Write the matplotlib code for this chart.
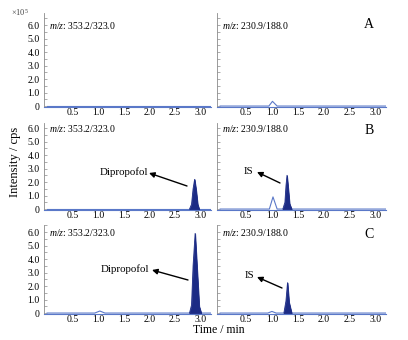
import matplotlib
matplotlib.use("Agg")
import matplotlib.pyplot as plt
from matplotlib.ticker import MultipleLocator

plt.rcParams['font.family'] = ['Liberation Serif', 'DejaVu Serif']
plt.rcParams['mathtext.fontset'] = 'custom'
plt.rcParams['mathtext.it'] = 'Liberation Serif:italic'
plt.rcParams['mathtext.rm'] = 'Liberation Serif'

# ---------------- data (time in min, intensity in x10^5 cps) ----------------
x_ticks = [0.5, 1.0, 1.5, 2.0, 2.5, 3.0]
x_tick_labels = ["0.5", "1.0", "1.5", "2.0", "2.5", "3.0"]
y_ticks = [0, 1, 2, 3, 4, 5, 6]
y_tick_labels = ["0", "1.0", "2.0", "3.0", "4.0", "5.0", "6.0"]

row_labels = ["A", "B", "C"]
left_mz = "353.2/323.0"
right_mz = "230.9/188.0"

# Row A (blank)
a_left_t = [0.0, 3.2]
a_left_y = [0.0, 0.0]
a_right_t = [0.0, 0.94, 1.01, 1.10, 3.2]
a_right_y = [0.0, 0.0, 0.35, 0.0, 0.0]

# Row B
b_left_t = [0.0, 3.2]
b_left_y = [0.0, 0.0]
b_left_peak_t = [2.78, 2.82, 2.85, 2.88, 2.91, 2.94, 2.97]
b_left_peak_y = [0.0, 0.35, 1.5, 2.2, 1.4, 0.35, 0.0]
b_right_t = [0.0, 0.95, 1.02, 1.10, 3.2]
b_right_y = [0.0, 0.0, 0.9, 0.0, 0.0]
b_right_peak_t = [1.21, 1.25, 1.27, 1.29, 1.31, 1.34, 1.38]
b_right_peak_y = [0.0, 0.5, 1.7, 2.5, 1.7, 0.4, 0.0]

# Row C
c_left_t = [0.0, 0.93, 1.03, 1.13, 3.2]
c_left_y = [0.0, 0.0, 0.15, 0.0, 0.0]
c_left_peak_t = [2.78, 2.82, 2.85, 2.89, 2.93, 2.97, 3.01]
c_left_peak_y = [0.0, 0.6, 3.5, 5.9, 3.2, 0.5, 0.0]
c_right_t = [0.0, 0.92, 1.00, 1.08, 3.2]
c_right_y = [0.0, 0.0, 0.12, 0.0, 0.0]
c_right_peak_t = [1.23, 1.27, 1.30, 1.33, 1.38]
c_right_peak_y = [0.0, 0.9, 2.25, 0.8, 0.0]

panels = [
    [(a_left_t, a_left_y, None, None), (a_right_t, a_right_y, None, None)],
    [(b_left_t, b_left_y, b_left_peak_t, b_left_peak_y),
     (b_right_t, b_right_y, b_right_peak_t, b_right_peak_y)],
    [(c_left_t, c_left_y, c_left_peak_t, c_left_peak_y),
     (c_right_t, c_right_y, c_right_peak_t, c_right_peak_y)],
]

# ---------------- layout ----------------
W, H = 408, 340
fig = plt.figure(figsize=(W / 100, H / 100), dpi=100)

cols_px = [(44, 211), (217, 386)]
rows_px = [(13, 107), (123, 210), (225, 314)]
px_per_unit = 13.5
y_bottom = -0.07
xlim = (-0.06, 3.2)

line_col = "#5a78c8"
fill_col = "#1c2b85"
spine_gray = "#8a8a8a"

axes = []
for r, (top, bot) in enumerate(rows_px):
    row_axes = []
    for c, (lft, rgt) in enumerate(cols_px):
        ax = fig.add_axes([lft / W, 1 - bot / H, (rgt - lft) / W, (bot - top) / H])
        t, y, pt, py = panels[r][c]
        ax.plot(t, y, color=line_col, lw=0.8, zorder=3)
        if pt is not None:
            ax.fill_between(pt, py, 0, color=fill_col, lw=0.6, zorder=4)
            ax.plot(pt, py, color=fill_col, lw=0.6, zorder=4)
        ax.set_xlim(*xlim)
        ax.set_ylim(y_bottom, y_bottom + (bot - top) / px_per_unit)
        ax.set_xticks(x_ticks)
        ax.set_xticklabels(x_tick_labels)
        ax.set_yticks(y_ticks)
        ax.yaxis.set_minor_locator(MultipleLocator(0.5))
        if c == 0:
            ax.set_yticklabels(y_tick_labels)
        else:
            ax.set_yticklabels([])
        ax.tick_params(axis='x', length=0, pad=1.0, labelsize=7)
        ax.tick_params(axis='y', which='both', direction='in', length=2,
                       color=spine_gray, width=0.5, pad=3, labelsize=7)
        for s in ['top', 'right']:
            ax.spines[s].set_visible(False)
        ax.spines['left'].set_color(spine_gray)
        ax.spines['left'].set_linewidth(0.6)
        ax.spines['bottom'].set_color(line_col)
        ax.spines['bottom'].set_linewidth(0.8)
        ax.patch.set_alpha(0)
        mz = left_mz if c == 0 else right_mz
        ax.text(0.03, 6.0, r"$m/z$: " + mz, fontsize=7, va='center', ha='left')
        row_axes.append(ax)
    axes.append(row_axes)

# row letters
for r, ypx in enumerate([25, 130, 235]):
    fig.text(369 / W, 1 - ypx / H, row_labels[r], fontsize=10, ha='center', va='center')

# x10^5 multiplier
fig.text(20 / W, 1 - 13 / H, r"$\times$10$^5$", fontsize=6, ha='center', va='center',
         color="#444444")

# axis titles
fig.text(15 / W, 1 - 162 / H, "Intensity / cps", rotation=90, fontsize=9,
         ha='center', va='center')
fig.text(219 / W, 1 - 330 / H, "Time / min", fontsize=8.5, ha='center', va='center')

# annotations (figure pixel coords)
annots = [
    ("Dipropofol", (124, 172), (149, 173), (187, 186)),
    ("IS", (248, 172), (257, 172), (280, 183)),
    ("Dipropofol", (125, 269), (152, 270), (188, 280)),
    ("IS", (249, 275), (257, 277), (282, 288)),
]
for txt, tpos, head, tail in annots:
    fig.text(tpos[0] / W, 1 - tpos[1] / H, txt, fontsize=7.8, ha='center', va='center')
    fig.add_artist(matplotlib.patches.FancyArrowPatch(
        (tail[0] / W, 1 - tail[1] / H), (head[0] / W, 1 - head[1] / H),
        transform=fig.transFigure, arrowstyle='-|>', mutation_scale=8,
        color='black', lw=1.0, shrinkA=0, shrinkB=0))

fig.savefig("out.png", dpi=100)
